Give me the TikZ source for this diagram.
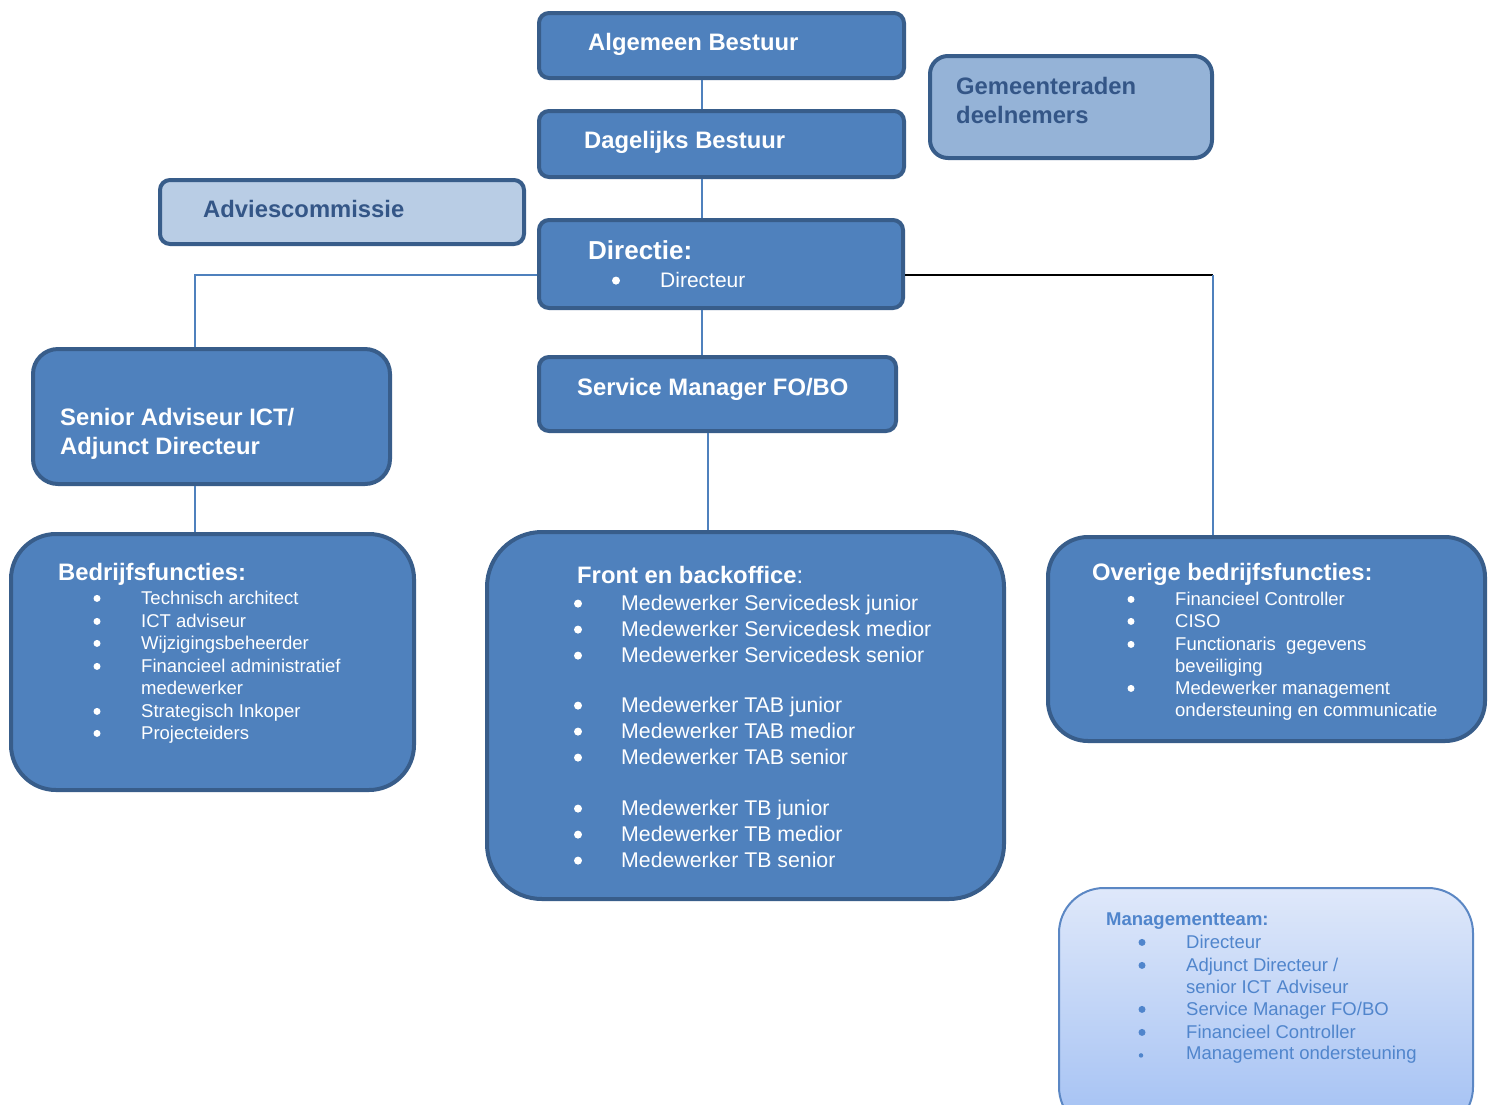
\documentclass[tikz,border=0pt]{standalone}
\usepackage{fontspec}
\setmainfont{Liberation Sans}
\usepackage{tikz}
\usetikzlibrary{calc}

\definecolor{boxfill}{HTML}{4F81BD}
\definecolor{boxline}{HTML}{385D8A}
\definecolor{gemfill}{HTML}{95B3D7}
\definecolor{advfill}{HTML}{B9CDE5}
\definecolor{darktxt}{HTML}{345687}
\definecolor{mttop}{HTML}{DFE8FA}
\definecolor{mtbot}{HTML}{A2C0F3}
\definecolor{mtline}{HTML}{5B87C4}
\definecolor{mttxt}{HTML}{5085CC}

\newcommand{\fsz}[1]{\fontsize{#1}{#1}\selectfont}

\tikzset{
    box/.style={draw=boxline, fill=boxfill, line width=4pt, rounded corners=#1, inner sep=0pt},
    box/.default=10pt,
    title/.style={anchor=base west, inner sep=0pt, text=white, font=\fsz{23.8}\bfseries},
    item/.style={anchor=base west, inner sep=0pt, text=white, font=\fsz{18.5}},
    dot/.style={circle, fill=white, inner sep=0pt, minimum size=#1, yshift=0.8*#1},
    dot/.default=7pt,
    conn/.style={draw=boxfill, line width=1.5pt},
}

\begin{document}
\begin{tikzpicture}[x=1pt, y=-1pt]
                \path[use as bounding box, fill=white] (0,0) rectangle (1489,1104);

                % Bestuur
                \node[box, minimum width=365pt, minimum height=65pt] (alg) at (721.5,45.5) {};
                \node[title] (algt) at (588,50) {Algemeen Bestuur};
                \node[box, minimum width=365pt, minimum height=66pt] (dag) at (721.5,144) {};
                \node[title] (dagt) at (584,148) {Dagelijks Bestuur};

                % Gemeenteraden en Adviescommissie
                \node[box=18pt, fill=gemfill, minimum width=282pt, minimum height=102pt] (gem) at (1071,107) {};
                \node[title, text=darktxt] (gemt) at (956,94) {Gemeenteraden};
                \node[title, text=darktxt] (gemt2) at (956,123) {deelnemers};
                \node[box, fill=advfill, minimum width=364pt, minimum height=64pt] (adv) at (342,212) {};
                \node[title, text=darktxt] (advt) at (203,217) {Adviescommissie};

                % Directie
                \node[box, minimum width=364pt, minimum height=88pt] (dir) at (721,264) {};
                \node[title, font=\fsz{26}\bfseries] (dirt) at (588,259) {Directie:};
                \node[dot=8pt] (dirb) at (616,287) {};
                \node[item, font=\fsz{21}] (diri) at (660,287) {Directeur};

                % Service Manager
                \node[box, minimum width=357pt, minimum height=74pt] (svc) at (717.5,394) {};
                \node[title] (svct) at (577,395) {Service Manager FO/BO};

                % Senior Adviseur
                \node[box=25pt, minimum width=357pt, minimum height=135pt] (sen) at (211.5,416.5) {};
                \node[title] (sent) at (60,425) {Senior Adviseur ICT/};
                \node[title] (sent2) at (60,454) {Adjunct Directeur};

                % Bedrijfsfuncties
                \node[box=45pt, minimum width=403pt, minimum height=256pt] (bed) at (212.5,662) {};
                \node[title] (bedt) at (58,580) {Bedrijfsfuncties:};
                \foreach \yy/\txt [count=\i] in {604/Technisch architect, 627/ICT adviseur,
                    649/Wijzigingsbeheerder, 672/Financieel administratief,
                    717/Strategisch Inkoper, 739/Projecteiders}{
                    \node[dot] (bedb\i) at (97,\yy) {};
                    \node[item] (bedi\i) at (141,\yy) {\txt};
                }
                \node[item] (bedi4b) at (141,694) {medewerker};

                % Front en backoffice
                \node[box=55pt, minimum width=517pt, minimum height=367pt] (fbo) at (745.5,715.5) {};
                \node[title] (fbot) at (577,583) {Front en backoffice{\mdseries:}};
                \foreach \yy/\txt [count=\i] in {610/Medewerker Servicedesk junior,
                    636/Medewerker Servicedesk medior, 662/Medewerker Servicedesk senior,
                    712/Medewerker TAB junior, 738/Medewerker TAB medior, 764/Medewerker TAB senior,
                    815/Medewerker TB junior, 841/Medewerker TB medior, 867/Medewerker TB senior}{
                    \node[dot=8pt] (fbob\i) at (578,\yy) {};
                    \node[item, font=\fsz{21.3}] (fboi\i) at (621,\yy) {\txt};
                }

                % Overige bedrijfsfuncties
                \node[box=40pt, minimum width=437pt, minimum height=204pt] (ovr) at (1266.5,639) {};
                \node[title] (ovrt) at (1092,580) {Overige bedrijfsfuncties:};
                \foreach \yy/\txt [count=\i] in {605/Financieel Controller, 627/CISO,
                    650/Functionaris\ \ gegevens, 694/Medewerker management}{
                    \node[dot] (ovrb\i) at (1131,\yy) {};
                    \node[item] (ovri\i) at (1175,\yy) {\txt};
                }
                \node[item] (ovri3b) at (1175,672) {beveiliging};
                \node[item] (ovri4b) at (1175,716) {ondersteuning en communicatie};

                % Managementteam
                \node[box=45pt, draw=mtline, line width=2pt, top color=mttop, bottom color=mtbot,
                    minimum width=414pt, minimum height=244pt] (mt) at (1266,1010) {};
                \node[title, text=mttxt, font=\fsz{18.5}\bfseries] (mtt) at (1106,925) {Managementteam:};
                \foreach \yy/\txt [count=\i] in {948/Directeur, 971/{Adjunct Directeur /},
                    1015/{Service Manager FO/BO}, 1038/Financieel Controller}{
                    \node[dot, fill=mttxt] (mtb\i) at (1142,\yy) {};
                    \node[item, text=mttxt] (mti\i) at (1186,\yy) {\txt};
                }
                \node[item, text=mttxt] (mti2b) at (1186,993) {senior ICT Adviseur};
                \node[dot=4.5pt, fill=mttxt] (mtb5) at (1141,1059) {};
                \node[item, text=mttxt] (mti5) at (1186,1059) {Management ondersteuning};

                % Lijnen
                \coordinate (spine) at (702,0);
                \coordinate (fbx) at (708,0);
                \coordinate (lbr) at (195,275);
                \coordinate (rbr) at (1213,275);
                \draw[conn] (alg.south -| spine) -- (dag.north -| spine);
                \draw[conn] (dag.south -| spine) -- (dir.north -| spine);
                \draw[conn] (dir.south -| spine) -- (svc.north -| spine);
                \draw[conn] (dir.west |- lbr) -- (lbr) -- (sen.north -| lbr);
                \draw[conn] (sen.south -| lbr) -- (bed.north -| lbr);
                \draw[conn] (svc.south -| fbx) -- (fbo.north -| fbx);
                \draw[black, line width=1.8pt] (dir.east |- rbr) -- (rbr);
                \draw[conn] (rbr) -- (ovr.north -| rbr);
            \end{tikzpicture}
\end{document}
